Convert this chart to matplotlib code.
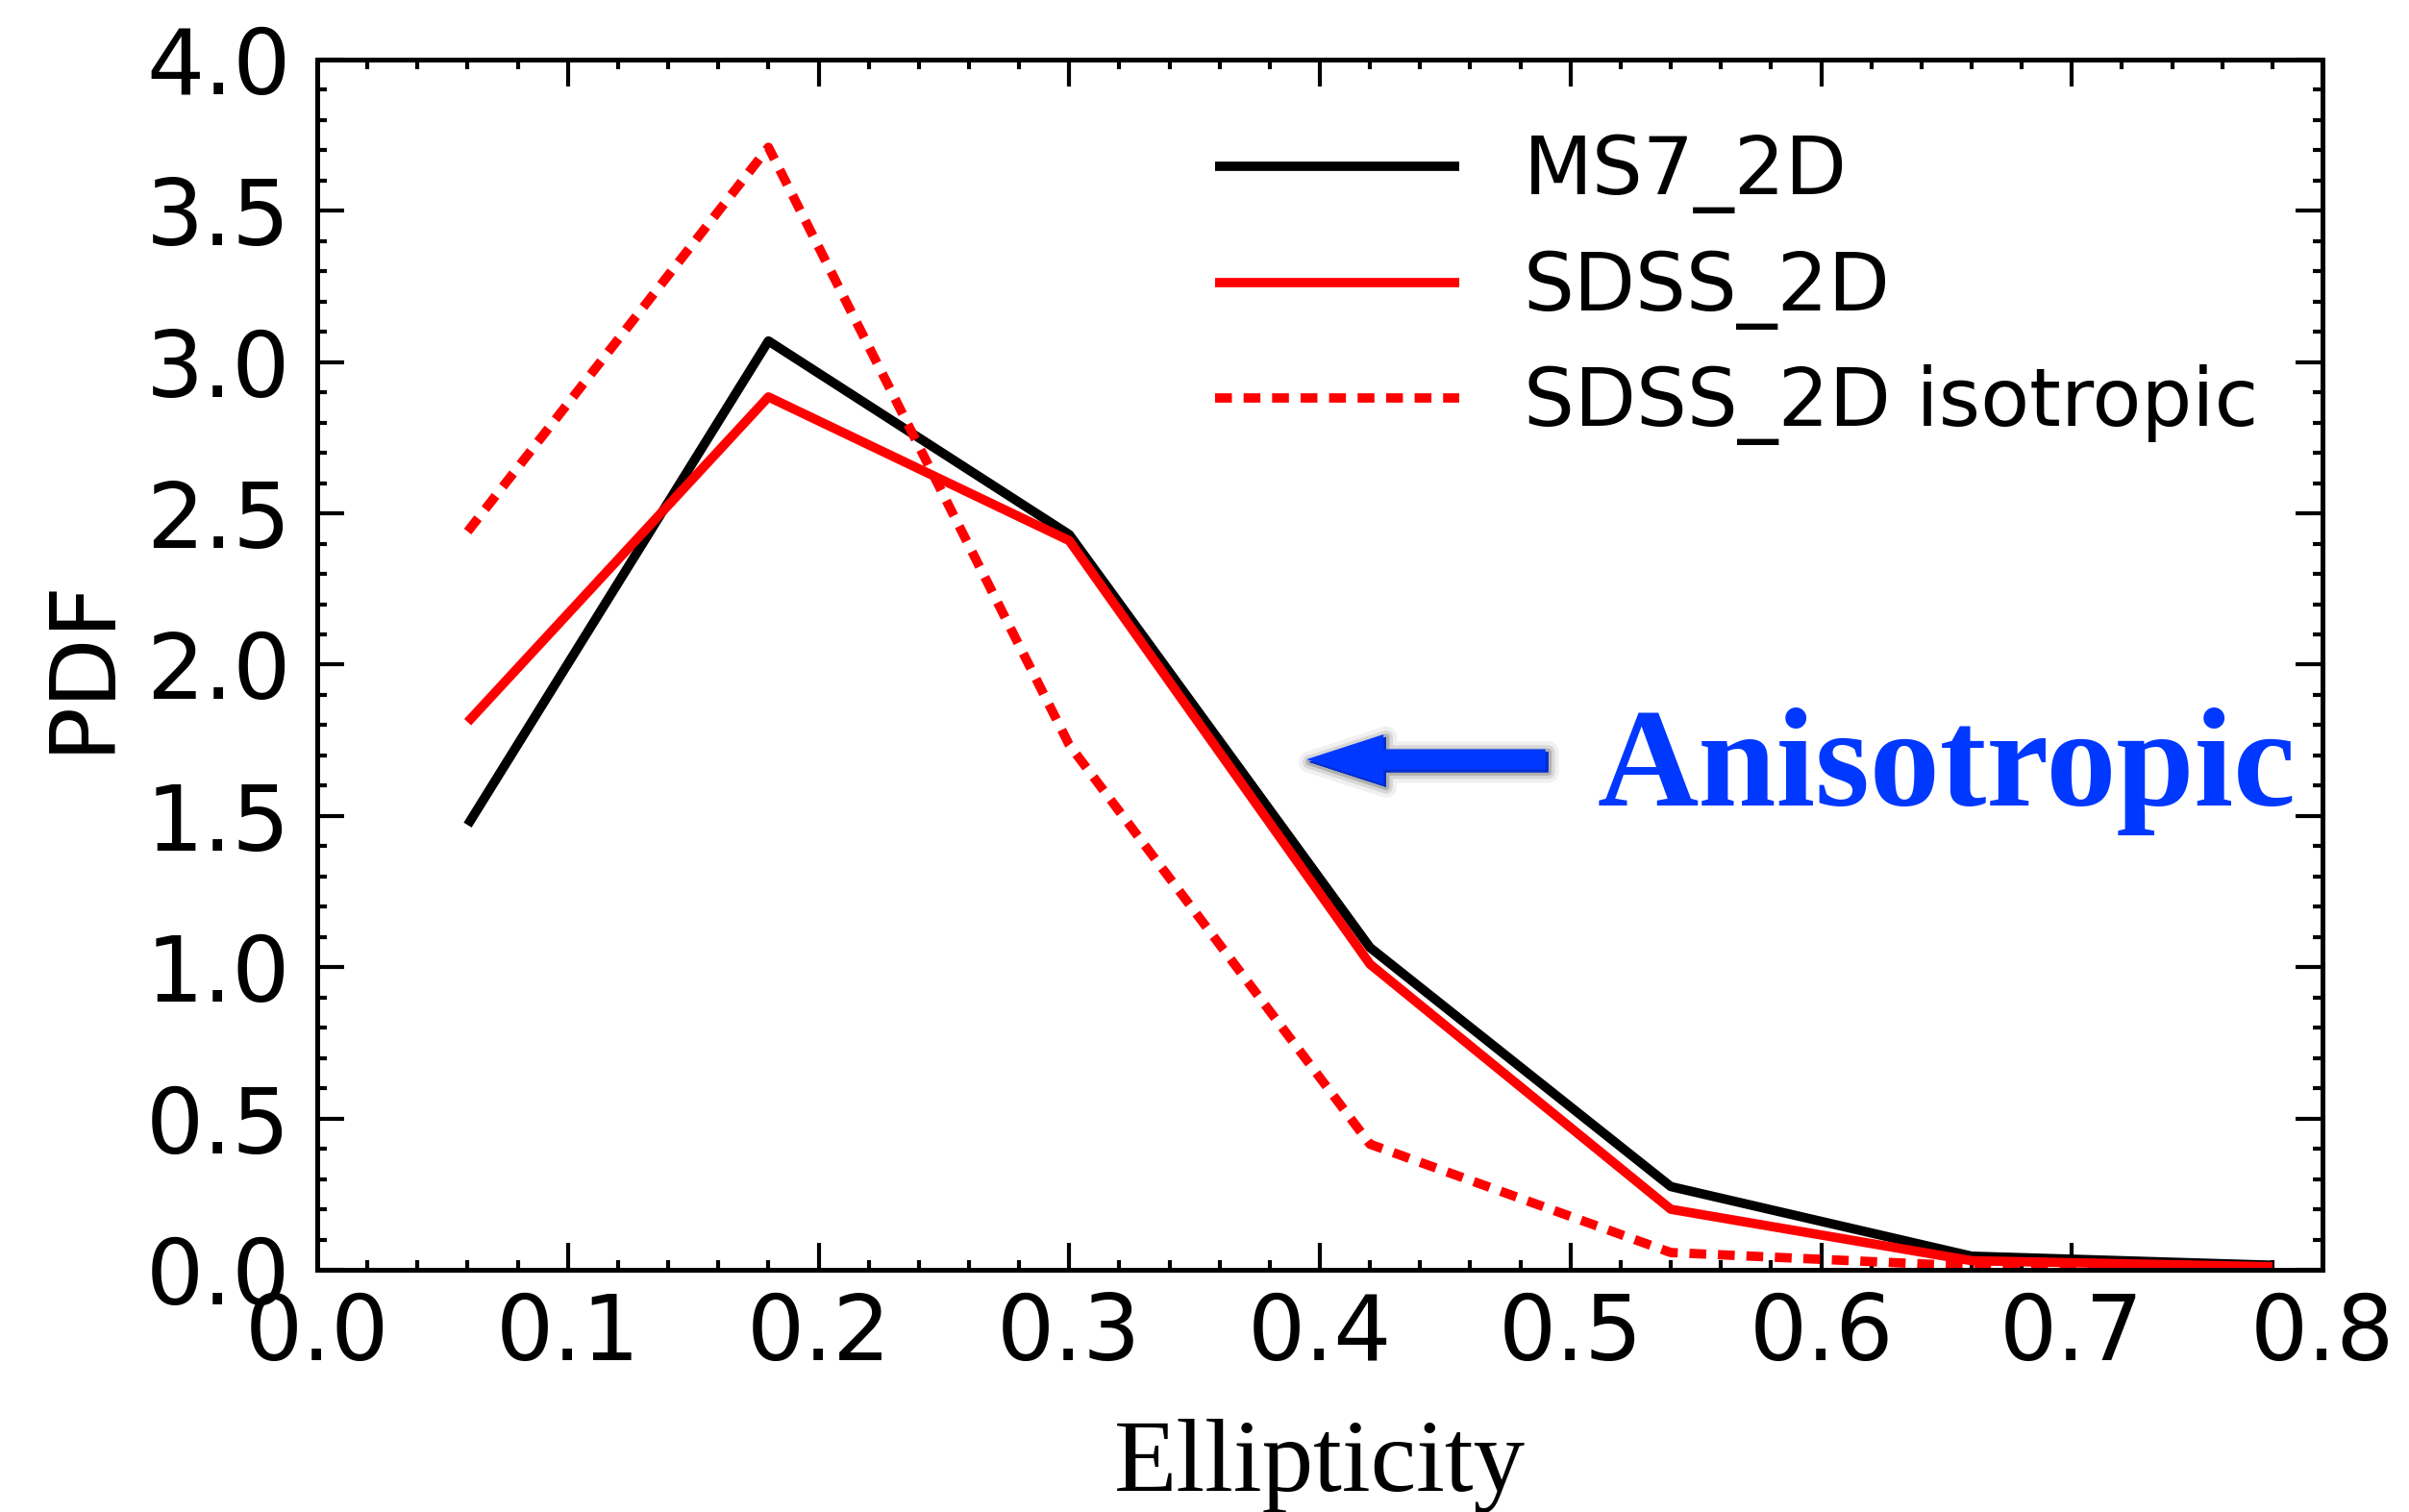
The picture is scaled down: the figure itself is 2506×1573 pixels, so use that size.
import matplotlib.pyplot as plt
import matplotlib.patheffects as pe
from matplotlib.ticker import MultipleLocator, FormatStrFormatter

# bin centres and PDF values
ellipticity = [0.06, 0.18, 0.30, 0.42, 0.54, 0.66, 0.78]
ms7_2d = [1.47, 3.07, 2.43, 1.065, 0.275, 0.045, 0.015]
sdss_2d = [1.81, 2.885, 2.41, 1.01, 0.20, 0.03, 0.01]
sdss_2d_iso = [2.44, 3.71, 1.735, 0.415, 0.057, 0.012, 0.0]

blue = "#0038FF"

fig = plt.figure(figsize=(12.53, 7.865), dpi=200)
ax = fig.add_axes([0.1317, 0.1602, 0.8324, 0.8004])

ax.plot(ellipticity, ms7_2d, color="black", lw=3.5, solid_capstyle="butt", label="MS7_2D")
ax.plot(ellipticity, sdss_2d, color="red", lw=3.5, solid_capstyle="butt", label="SDSS_2D")
ax.plot(ellipticity, sdss_2d_iso, color="red", lw=3.5, dashes=(1.8, 1.25), dash_capstyle="butt",
        label="SDSS_2D isotropic")

ax.set_xlim(0, 0.8)
ax.set_ylim(0, 4.0)
ax.xaxis.set_major_locator(MultipleLocator(0.1))
ax.xaxis.set_minor_locator(MultipleLocator(0.02))
ax.yaxis.set_major_locator(MultipleLocator(0.5))
ax.yaxis.set_minor_locator(MultipleLocator(0.1))
ax.xaxis.set_major_formatter(FormatStrFormatter("%.1f"))
ax.yaxis.set_major_formatter(FormatStrFormatter("%.1f"))

ax.tick_params(which="both", direction="in", top=True, right=True, width=1.5, labelsize=34)
ax.tick_params(which="major", length=10)
ax.tick_params(which="minor", length=3.6)
ax.tick_params(axis="x", pad=8)
ax.tick_params(axis="y", pad=10)
for s in ax.spines.values():
    s.set_linewidth(1.8)

ax.set_ylabel("PDF", fontsize=34)
ax.yaxis.set_label_coords(-0.095, 0.5)
ax.set_xlabel("Ellipticity", fontsize=38.5, family="Liberation Serif")
ax.xaxis.set_label_coords(0.5, -0.123)

ax.legend(loc="upper left", bbox_to_anchor=(0.4478, 0.9396), frameon=False, fontsize=30,
          handlelength=3.05, handletextpad=0.8, labelspacing=0.44, borderpad=0, borderaxespad=0)

shadow = [
    pe.Stroke(linewidth=8, foreground=(0, 0, 0, 0.06), offset=(1, -1)),
    pe.Stroke(linewidth=5, foreground=(0, 0, 0, 0.10), offset=(1, -1)),
    pe.Stroke(linewidth=2.5, foreground=(0, 0, 0, 0.18), offset=(1, -1)),
    pe.Normal(),
]
ax.annotate("", xy=(0.3947, 1.687), xytext=(0.490, 1.687),
            arrowprops=dict(arrowstyle="simple,head_length=2.88,head_width=1.87,tail_width=0.76",
                            mutation_scale=10, color=blue, lw=0, shrinkA=0, shrinkB=0,
                            path_effects=shadow))
ax.text(0.5105, 1.5346, "Anisotropic", color=blue, fontsize=52.5, fontweight="bold",
        family="Liberation Serif", ha="left", va="baseline")

fig.savefig("out.png", dpi=200)
